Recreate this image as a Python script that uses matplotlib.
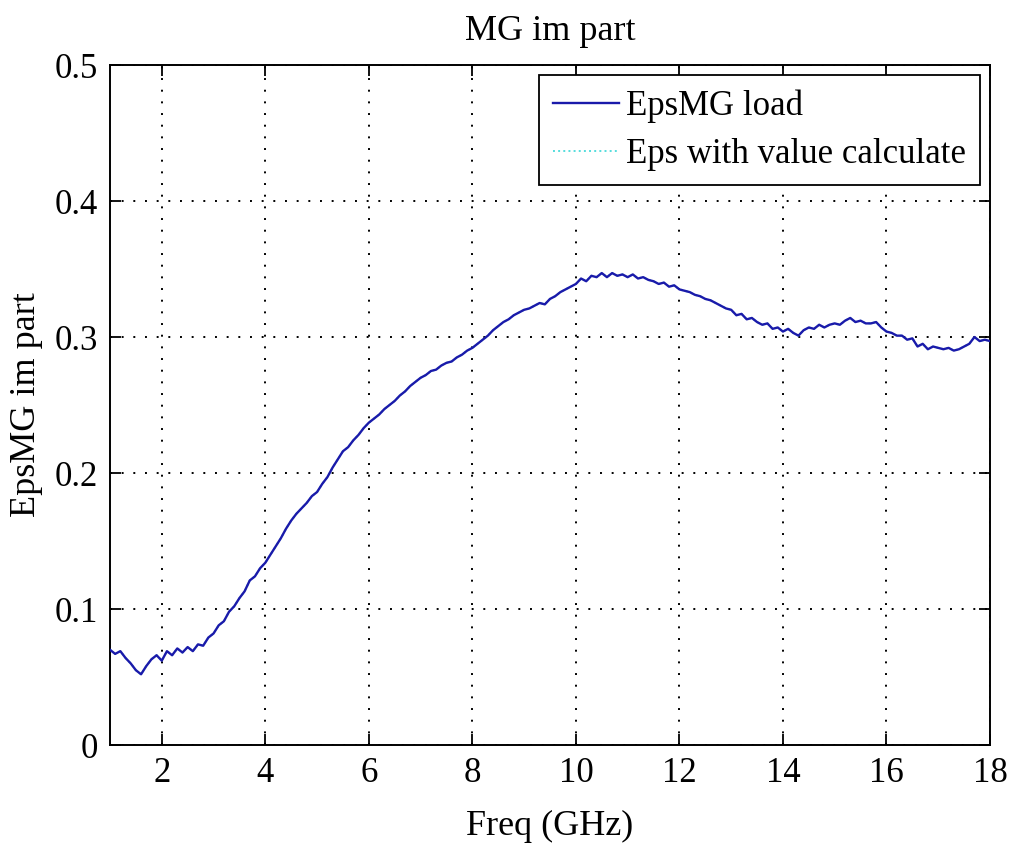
import numpy as np
import matplotlib
matplotlib.use("Agg")
import matplotlib.pyplot as plt

plt.rcParams['font.family'] = ['Liberation Serif', 'DejaVu Serif']

# frequency sweep (GHz), 0.1 GHz step
freq = np.round(np.arange(1.0, 18.05, 0.1), 1)

# imaginary part of EpsMG
eps_load = [
    0.070, 0.067, 0.069, 0.064, 0.060, 0.055, 0.052, 0.058, 0.063, 0.066,
    0.062, 0.069, 0.066, 0.071, 0.068, 0.072, 0.069, 0.074, 0.073, 0.079,
    0.082, 0.088, 0.091, 0.098, 0.102, 0.108, 0.113, 0.121, 0.124, 0.130,
    0.134, 0.140, 0.146, 0.152, 0.159, 0.165, 0.170, 0.174, 0.178, 0.183,
    0.186, 0.192, 0.197, 0.204, 0.210, 0.216, 0.219, 0.224, 0.228, 0.233,
    0.237, 0.240, 0.243, 0.247, 0.250, 0.253, 0.257, 0.260, 0.264, 0.267,
    0.270, 0.272, 0.275, 0.276, 0.279, 0.281, 0.282, 0.285, 0.287, 0.290,
    0.292, 0.295, 0.298, 0.301, 0.305, 0.308, 0.311, 0.313, 0.316, 0.318,
    0.320, 0.321, 0.323, 0.325, 0.324, 0.328, 0.330, 0.333, 0.335, 0.337,
    0.339, 0.343, 0.341, 0.345, 0.344, 0.347, 0.344, 0.347, 0.345, 0.346,
    0.344, 0.346, 0.343, 0.344, 0.342, 0.341, 0.339, 0.340, 0.337, 0.338,
    0.335, 0.334, 0.333, 0.331, 0.330, 0.328, 0.327, 0.325, 0.323, 0.321,
    0.320, 0.316, 0.317, 0.313, 0.314, 0.311, 0.309, 0.310, 0.306, 0.307,
    0.304, 0.306, 0.303, 0.301, 0.305, 0.307, 0.306, 0.309, 0.307, 0.309,
    0.310, 0.309, 0.312, 0.314, 0.311, 0.312, 0.310, 0.310, 0.311, 0.307,
    0.304, 0.303, 0.301, 0.301, 0.298, 0.299, 0.293, 0.295, 0.291, 0.293,
    0.292, 0.291, 0.292, 0.290, 0.291, 0.293, 0.295, 0.300, 0.297, 0.298,
    0.297,
]
# calculated curve sits right under the measured one
eps_calc = eps_load

xticks = [2, 4, 6, 8, 10, 12, 14, 16, 18]
yticks = [0, 0.1, 0.2, 0.3, 0.4, 0.5]
ytick_labels = ['0', '0.1', '0.2', '0.3', '0.4', '0.5']

fig = plt.figure(figsize=(10.11, 8.5), dpi=100)
ax = fig.add_axes([110 / 1011, 105 / 850, 880 / 1011, 680 / 850])

ax.plot(freq, eps_calc, color='#55dddd', linestyle=':', linewidth=1.4,
        label='Eps with value calculate', zorder=2)
ax.plot(freq, eps_load, color='#1a1aaa', linewidth=1.7,
        label='EpsMG load', zorder=3)

ax.set_xlim(1, 18)
ax.set_ylim(0, 0.5)
ax.set_xticks(xticks)
ax.set_yticks(yticks)
ax.set_yticklabels(ytick_labels)
ax.tick_params(direction='in', length=8, width=1.3, labelsize=25,
               top=True, right=True, pad=9)
ax.grid(True, color='black', linestyle=(0, (1, 5)), linewidth=1.4)
for s in ax.spines.values():
    s.set_linewidth(1.4)

ax.set_title('MG im part', fontsize=26, pad=18)
ax.set_xlabel('Freq (GHz)', fontsize=26, labelpad=14)
ax.set_ylabel('EpsMG im part', fontsize=26, labelpad=8)

h, l = ax.get_legend_handles_labels()
leg = ax.legend(h[::-1], l[::-1], loc='upper right', fontsize=25,
                fancybox=False, edgecolor='black', framealpha=1,
                handlelength=1.9, handletextpad=0.2, borderpad=0.4,
                labelspacing=0.45, borderaxespad=0.3)
leg.get_frame().set_linewidth(1.3)

fig.savefig('out.png', dpi=100)
